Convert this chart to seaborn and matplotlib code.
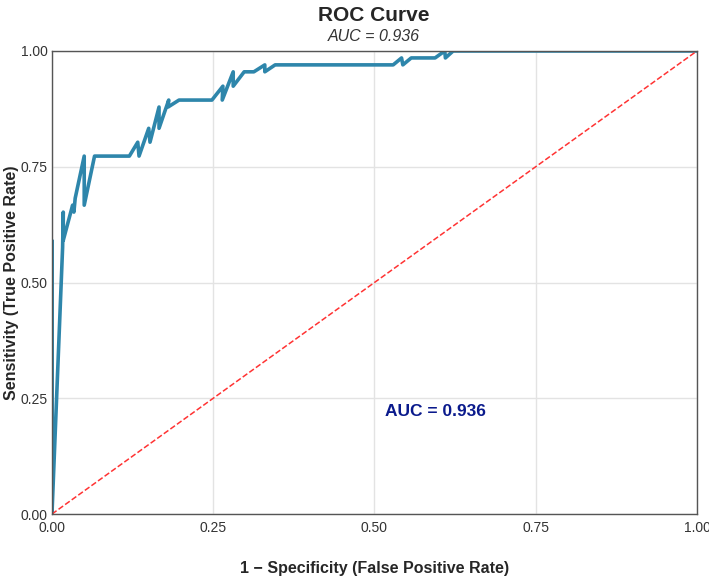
import matplotlib
matplotlib.use("Agg")
import matplotlib.pyplot as plt
import seaborn as sns
import pandas as pd

# ROC points (order kept as drawn)
fpr = [0.0, 0.0, 0.0, 0.0165, 0.0175, 0.0175, 0.032, 0.034, 0.036, 0.050, 0.050,
       0.066, 0.120, 0.133, 0.135, 0.150, 0.152, 0.166, 0.166, 0.181, 0.180,
       0.197, 0.248, 0.265, 0.264, 0.281, 0.281, 0.298, 0.313, 0.330, 0.330,
       0.346, 0.529, 0.542, 0.544, 0.557, 0.594, 0.609, 0.610, 0.622, 1.0]
tpr = [0.0, 0.59, 0.0, 0.576, 0.652, 0.591, 0.667, 0.652, 0.682, 0.773, 0.667,
       0.773, 0.773, 0.803, 0.773, 0.833, 0.803, 0.879, 0.833, 0.894, 0.879,
       0.894, 0.894, 0.924, 0.894, 0.955, 0.924, 0.955, 0.955, 0.970, 0.955,
       0.970, 0.970, 0.985, 0.970, 0.985, 0.985, 1.0, 0.985, 1.0, 1.0]
chance_x = [0.0, 1.0]
chance_y = [0.0, 1.0]
auc = 0.936

roc = pd.DataFrame({"fpr": fpr, "tpr": tpr})

sns.set_theme(style="whitegrid")
plt.rcParams["font.family"] = ["Liberation Sans", "DejaVu Sans"]

fig = plt.figure(figsize=(7.09, 5.82), dpi=100)
ax = fig.add_axes([0.0733, 0.1168, 0.9097, 0.7956])

sns.lineplot(data=roc, x="fpr", y="tpr", sort=False, estimator=None,
             color="#2E86AB", linewidth=2.6, ax=ax)
sns.lineplot(x=chance_x, y=chance_y, color="#FF3333", linestyle="--",
             linewidth=1.1, ax=ax)

ax.set_xlim(0, 1)
ax.set_ylim(0, 1)
ticks = [0, 0.25, 0.5, 0.75, 1.0]
ax.set_xticks(ticks)
ax.set_yticks(ticks)
ax.set_xticklabels([f"{t:.2f}" for t in ticks], fontsize=10, color="#333333")
ax.set_yticklabels([f"{t:.2f}" for t in ticks], fontsize=10, color="#333333")
ax.tick_params(axis="x", length=0, pad=5)
ax.tick_params(axis="y", length=0, pad=3)

ax.grid(True, color="#e3e3e3", linewidth=1)
for s in ax.spines.values():
    s.set_visible(True)
    s.set_color("#555555")
    s.set_linewidth(1)

ax.set_xlabel("1 \u2212 Specificity (False Positive Rate)", fontsize=11.5,
              fontweight="bold", labelpad=19)
ax.set_ylabel("Sensitivity (True Positive Rate)", fontsize=11.5,
              fontweight="bold", labelpad=1)

fig.text(0.527, 0.973, "ROC Curve", ha="center", va="center",
         fontsize=15, fontweight="bold")
fig.text(0.527, 0.938, f"AUC = {auc:.3f}", ha="center", va="center",
         fontsize=11.5, style="italic", color="#333333")

ax.text(0.594, 0.222, f"AUC = {auc:.3f}", ha="center", va="center",
        fontsize=12.5, fontweight="bold", color="#0a1a8c")

fig.savefig("out.png", dpi=100)
